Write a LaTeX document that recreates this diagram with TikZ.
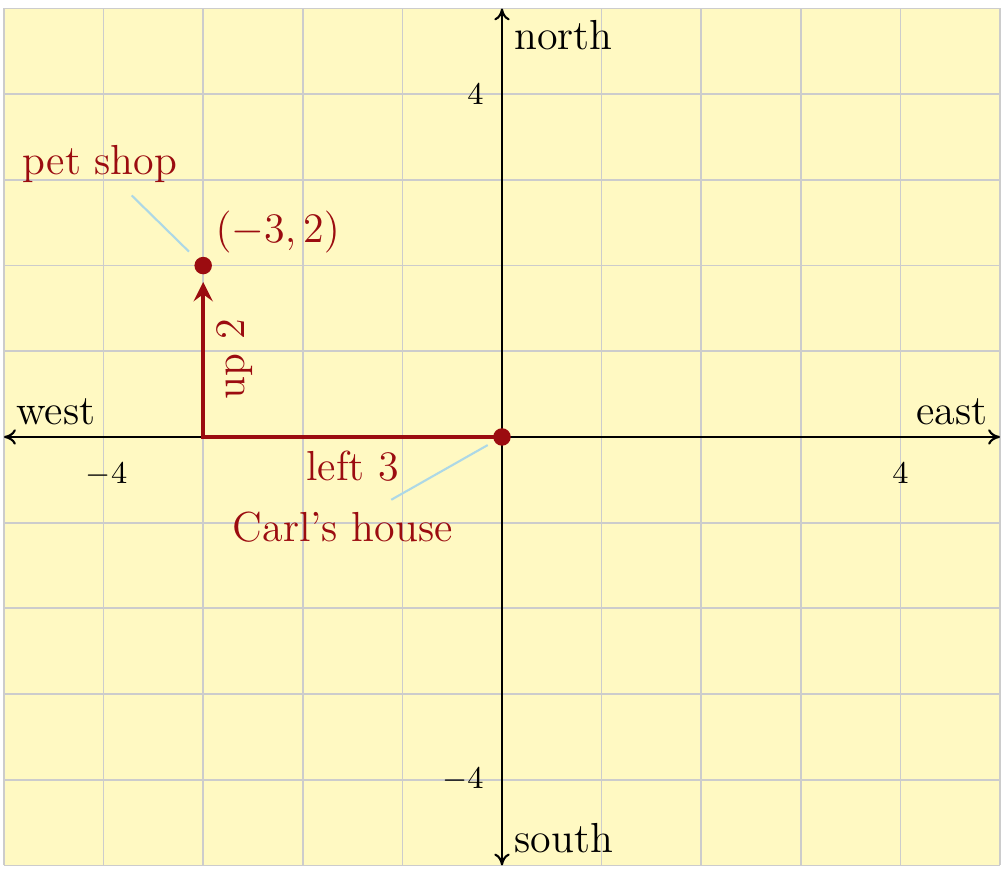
\documentclass[tikz,border=0pt]{standalone}
\usepackage{tikz}
\usetikzlibrary{arrows.meta, positioning}
\definecolor{mapbg}{RGB}{255, 249, 194}
\definecolor{mapred}{RGB}{155, 12, 16}
\definecolor{mapleader}{RGB}{173, 216, 230}

\begin{document}
\begin{tikzpicture}[x=1cm, y=0.8604cm,
    lbl/.style={font=\large},
    ticklbl/.style={font=\small},
    gridline/.style={gray!40, line width=0.5pt},
    axisline/.style={{To[length=3.4pt, width=4.4pt]}-{To[length=3.4pt, width=4.4pt]}, semithick, black},
    dot/.style={circle, fill=mapred, inner sep=0pt, minimum size=5pt},
    route/.style={-{Stealth[length=5.5pt, width=5.5pt, inset=2pt]}, line width=1.2pt, mapred},
    leader/.style={mapleader, line width=0.6pt}
  ]
    \useasboundingbox (-5.04,-5.111) rectangle (5.08,5.099);
    \fill[mapbg] (-5,-5) rectangle (5,5);
    \foreach \i in {-5,...,5} {
      \draw[gridline] (\i,-5) -- (\i,5);
      \draw[gridline] (-5,\i) -- (5,\i);
      \draw[gridline] (\i,-0.09) -- (\i,0.09);
      \draw[gridline] (-0.08,\i) -- (0.08,\i);
    }
    % axes
    \coordinate (W) at (-5,0);
    \coordinate (E) at (5,0);
    \coordinate (N) at (0,5);
    \coordinate (S) at (0,-5);
    \draw[axisline] (W) -- (E);
    \draw[axisline] (S) -- (N);
    \node[lbl, above right] (west) at (W) {west};
    \node[lbl, above left] (east) at (E) {east};
    \node[lbl, below right] (north) at (N) {north};
    \node[lbl, above right] (south) at (S) {south};
    \node[ticklbl, below] (xm4) at (-3.97,-0.16) {$-4$};
    \node[ticklbl, below] (xp4) at (4,-0.16) {$4$};
    \node[ticklbl, left] (yp4) at (-0.06,4) {$4$};
    \node[ticklbl, left] (ym4) at (-0.06,-4) {$-4$};
    % the walk
    \node[dot] (home) at (0,0) {};
    \node[dot] (shop) at (-3,2) {};
    \coordinate (corner) at (-3,0);
    \draw[route, shorten >=2pt] (home.center) -- (corner)
      node[lbl, midway, below, text=mapred] (left3) {left 3}
      -- (shop)
      node[lbl, pos=0.48, below, sloped, text=mapred] (up2) {up 2};
    \node[lbl, above right, text=mapred] (coords) at (shop) {$(-3,2)$};
    \node[lbl, text=mapred] (petshop) at (-4.035,3.18) {pet shop};
    \node[lbl, text=mapred] (carlhouse) at (-1.6,-1.055) {Carl's house};
    \draw[leader, shorten <=3pt] (shop) -- (petshop);
    \draw[leader, shorten <=2pt] (home) -- (carlhouse);
  \end{tikzpicture}
\end{document}
